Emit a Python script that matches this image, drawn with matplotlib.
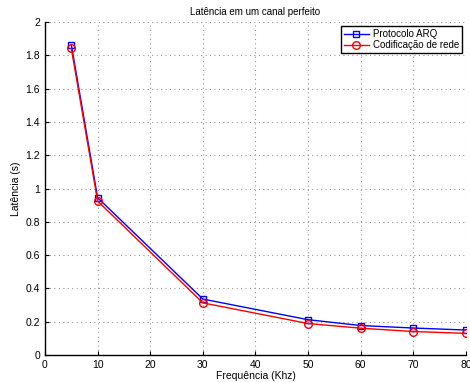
import matplotlib.pyplot as plt

# -- data --
freq = [5, 10, 30, 50, 60, 70, 80]
lat_arq = [1.865, 0.945, 0.336, 0.212, 0.177, 0.162, 0.150]
lat_rede = [1.842, 0.925, 0.313, 0.189, 0.161, 0.141, 0.130]

plt.rcParams['font.family'] = ['Liberation Sans', 'DejaVu Sans']

fig = plt.figure(figsize=(4.7, 3.82), dpi=100)
ax = fig.add_axes([0.0957, 0.0707, 0.8958, 0.8713])

ax.plot(freq, lat_arq, color='blue', marker='s', markersize=5, markerfacecolor='none',
        markeredgecolor='blue', linewidth=1, label='Protocolo ARQ')
ax.plot(freq, lat_rede, color='red', marker='o', markersize=5.5, markerfacecolor='none',
        markeredgecolor='red', linewidth=1, label='Codificação de rede')

ax.set_xlim(0, 80)
ax.set_ylim(0, 2)
ax.set_xticks(range(0, 81, 10))
ax.set_yticks([0, 0.2, 0.4, 0.6, 0.8, 1, 1.2, 1.4, 1.6, 1.8, 2])
ax.set_yticklabels(['0', '0.2', '0.4', '0.6', '0.8', '1', '1.2', '1.4', '1.6', '1.8', '2'])
ax.tick_params(direction='in', labelsize=7.5, length=3, width=0.8)
ax.grid(True, linestyle=(0, (1, 3)), color='#9a9a9a', linewidth=0.8)

for s in ['top', 'right']:
    ax.spines[s].set_visible(False)
ax.spines['left'].set_linewidth(1)
ax.spines['bottom'].set_linewidth(1)

ax.set_title('Latência em um canal perfeito', fontsize=7, pad=5)
ax.set_xlabel('Frequência (Khz)', fontsize=7.5, labelpad=1)
ax.set_ylabel('Latência (s)', fontsize=7.5, labelpad=3)

leg = ax.legend(loc='upper right', fontsize=7, fancybox=False, framealpha=1,
                edgecolor='black', borderpad=0.3, handlelength=2.6, handletextpad=0.4,
                labelspacing=0.1, borderaxespad=0.4)
leg.get_frame().set_linewidth(1)

fig.savefig('out.png', dpi=100)
